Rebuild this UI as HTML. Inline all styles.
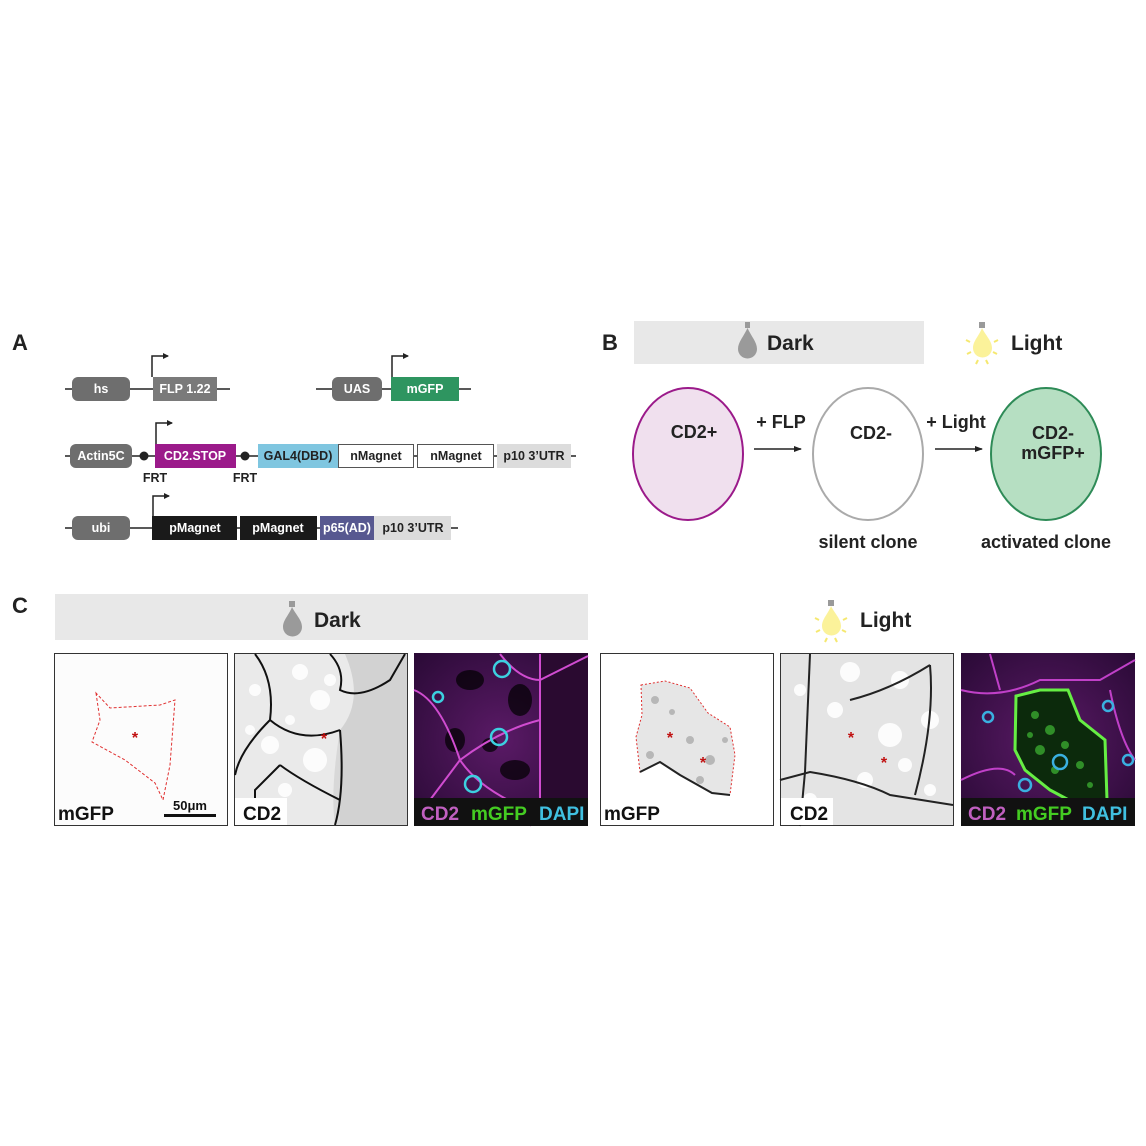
<!DOCTYPE html>
<html><head><meta charset="utf-8"><style>
html,body{margin:0;padding:0;background:#fff;}
svg{display:block;}
text{font-family:"Liberation Sans",Arial,sans-serif;font-weight:bold;}
</style></head><body>
<svg width="1146" height="1146" viewBox="0 0 1146 1146" xmlns="http://www.w3.org/2000/svg">
<defs>
<marker id="ah" markerWidth="8" markerHeight="8" refX="7" refY="4" orient="auto" markerUnits="userSpaceOnUse"><path d="M0,1 L8,4 L0,7 Z" fill="#222"/></marker>
<marker id="ps" markerWidth="6" markerHeight="6" refX="5" refY="3" orient="auto" markerUnits="userSpaceOnUse"><path d="M0,0 L6,3 L0,6 Z" fill="#222"/></marker>
<radialGradient id="gm" cx="50%" cy="50%" r="70%"><stop offset="0" stop-color="#5a1a66"/><stop offset="1" stop-color="#2a0a36"/></radialGradient>
</defs>

<!-- Panel A -->
<text x="12" y="350" font-size="22" fill="#222">A</text>
<g font-size="12.5" text-anchor="middle">
<!-- row 1 -->
<line x1="65" y1="389" x2="230" y2="389" stroke="#222" stroke-width="1.5"/>
<rect x="72" y="377" width="58" height="24" rx="6" fill="#6e6e6e"/><text x="101" y="393" fill="#fff">hs</text>
<rect x="153" y="377" width="64" height="24" fill="#7a7a7a"/><text x="185" y="393" fill="#fff">FLP 1.22</text>
<polyline points="152,377 152,356 168,356" fill="none" stroke="#222" stroke-width="1.5" marker-end="url(#ps)"/>
<line x1="316" y1="389" x2="471" y2="389" stroke="#222" stroke-width="1.5"/>
<rect x="332" y="377" width="50" height="24" rx="6" fill="#6e6e6e"/><text x="357" y="393" fill="#fff">UAS</text>
<rect x="391" y="377" width="68" height="24" fill="#2e9560"/><text x="425" y="393" fill="#fff">mGFP</text>
<polyline points="392,377 392,356 408,356" fill="none" stroke="#222" stroke-width="1.5" marker-end="url(#ps)"/>
<!-- row 2 -->
<line x1="65" y1="456" x2="576" y2="456" stroke="#222" stroke-width="1.5"/>
<rect x="70" y="444" width="62" height="24" rx="6" fill="#6e6e6e"/><text x="101" y="460" fill="#fff">Actin5C</text>
<circle cx="144" cy="456" r="4.5" fill="#222"/>
<rect x="155" y="444" width="81" height="24" fill="#9b1a8a"/><text x="195" y="460" fill="#fff">CD2.STOP</text>
<circle cx="245" cy="456" r="4.5" fill="#222"/>
<polyline points="156,444 156,423 172,423" fill="none" stroke="#222" stroke-width="1.5" marker-end="url(#ps)"/>
<rect x="258" y="444" width="80" height="24" fill="#7fc6e0"/><text x="298" y="460" fill="#222">GAL4(DBD)</text>
<rect x="338.5" y="444.5" width="75" height="23" fill="#fff" stroke="#555"/><text x="376" y="460" fill="#222">nMagnet</text>
<rect x="417.5" y="444.5" width="76" height="23" fill="#fff" stroke="#555"/><text x="456" y="460" fill="#222">nMagnet</text>
<rect x="497" y="444" width="74" height="24" fill="#dcdcdc"/><text x="534" y="460" fill="#222">p10 3’UTR</text>
<text x="155" y="482" fill="#222">FRT</text><text x="245" y="482" fill="#222">FRT</text>
<!-- row 3 -->
<line x1="65" y1="528" x2="458" y2="528" stroke="#222" stroke-width="1.5"/>
<rect x="72" y="516" width="58" height="24" rx="6" fill="#6e6e6e"/><text x="101" y="532" fill="#fff">ubi</text>
<rect x="152" y="516" width="85" height="24" fill="#1a1a1a"/><text x="195" y="532" fill="#fff">pMagnet</text>
<rect x="240" y="516" width="77" height="24" fill="#1a1a1a"/><text x="278" y="532" fill="#fff">pMagnet</text>
<rect x="320" y="516" width="54" height="24" fill="#575890"/><text x="347" y="532" fill="#fff">p65(AD)</text>
<rect x="374" y="516" width="77" height="24" fill="#dcdcdc"/><text x="413" y="532" fill="#222">p10 3’UTR</text>
<polyline points="153,516 153,496 169,496" fill="none" stroke="#222" stroke-width="1.5" marker-end="url(#ps)"/>
</g>

<!-- Panel B -->
<text x="602" y="350" font-size="22" fill="#222">B</text>
<rect x="634" y="321" width="290" height="43" fill="#e8e8e8"/>
<g fill="#9a9a9a"><rect x="745" y="322" width="5" height="6"/><path d="M747.5,328 C744,336 738,342 738,349 A9.5,9.5 0 0 0 757,349 C757,342 751,336 747.5,328Z"/></g>
<text x="767" y="350" font-size="21" fill="#222">Dark</text>
<g><rect x="979" y="322" width="6" height="6" fill="#9a9a9a"/><path d="M982,328 C979,336 973,341 973,348 A9.5,9.5 0 0 0 992,348 C992,341 986,336 982,328Z" fill="#fbf29a"/>
<g stroke="#f5e870" stroke-width="2"><line x1="966" y1="340" x2="970" y2="342"/><line x1="998" y1="340" x2="994" y2="342"/><line x1="967" y1="354" x2="971" y2="352"/><line x1="997" y1="354" x2="993" y2="352"/><line x1="978" y1="360" x2="976" y2="364"/><line x1="986" y1="360" x2="988" y2="364"/></g></g>
<text x="1011" y="350" font-size="21" fill="#222">Light</text>
<ellipse cx="688" cy="454" rx="55" ry="66" fill="#f0e0ee" stroke="#9b1a8a" stroke-width="2"/>
<ellipse cx="868" cy="454" rx="55" ry="66" fill="#fff" stroke="#aaa" stroke-width="2"/>
<ellipse cx="1046" cy="454" rx="55" ry="66" fill="#b6dfc2" stroke="#2e8b57" stroke-width="2"/>
<g font-size="18" fill="#222" text-anchor="middle">
<text x="694" y="438">CD2+</text><text x="871" y="439">CD2-</text>
<text x="1053" y="439">CD2-</text><text x="1053" y="459">mGFP+</text>
<text x="781" y="428">+ FLP</text><text x="956" y="428">+ Light</text>
<text x="868" y="548">silent clone</text><text x="1046" y="548">activated clone</text>
</g>
<line x1="754" y1="449" x2="801" y2="449" stroke="#222" stroke-width="1.5" marker-end="url(#ah)"/>
<line x1="935" y1="449" x2="982" y2="449" stroke="#222" stroke-width="1.5" marker-end="url(#ah)"/>

<!-- Panel C -->
<text x="12" y="613" font-size="22" fill="#222">C</text>
<rect x="55" y="594" width="533" height="46" fill="#e8e8e8"/>
<g fill="#9a9a9a"><rect x="289" y="601" width="6" height="6"/><path d="M292,607 C289,615 283,620 283,627 A9.5,9.5 0 0 0 302,627 C302,620 296,615 292,607Z"/></g>
<text x="314" y="627" font-size="21" fill="#222">Dark</text>
<g><rect x="828" y="600" width="6" height="6" fill="#9a9a9a"/><path d="M831,606 C828,614 822,619 822,626 A9.5,9.5 0 0 0 841,626 C841,619 835,614 831,606Z" fill="#fbf29a"/>
<g stroke="#f5e870" stroke-width="2"><line x1="815" y1="618" x2="819" y2="620"/><line x1="847" y1="618" x2="843" y2="620"/><line x1="816" y1="632" x2="820" y2="630"/><line x1="846" y1="632" x2="842" y2="630"/><line x1="827" y1="638" x2="825" y2="642"/><line x1="835" y1="638" x2="837" y2="642"/></g></g>
<text x="860" y="627" font-size="21" fill="#222">Light</text>

<!-- panel 1 -->
<rect x="54.5" y="653.5" width="173" height="172" fill="#fcfcfc" stroke="#333"/>
<path d="M96,693 L100,720 L92,742 L125,760 L155,783 L163,800 L170,765 L175,700 L160,705 L110,708 Z" fill="none" stroke="#e03030" stroke-dasharray="3,2"/>
<text x="135" y="743" font-size="16" fill="#c01010" text-anchor="middle">*</text>
<text x="58" y="820" font-size="19" fill="#111">mGFP</text>
<text x="190" y="810" font-size="13" fill="#111" text-anchor="middle">50μm</text>
<rect x="164" y="814" width="52" height="3" fill="#111"/>

<!-- panel 2 -->
<rect x="234.5" y="653.5" width="173" height="172" fill="#d8d8d8" stroke="#333"/>
<g>
<rect x="340" y="654" width="67" height="171" fill="#d2d2d2"/>
<path d="M235,654 L345,654 Q365,700 340,730 Q330,790 335,825 L235,825Z" fill="#eaeaea"/>
<g fill="#fff" opacity="0.9">
<circle cx="300" cy="672" r="8"/><circle cx="255" cy="690" r="6"/><circle cx="320" cy="700" r="10"/><circle cx="270" cy="745" r="9"/><circle cx="315" cy="760" r="12"/><circle cx="285" cy="790" r="7"/><circle cx="250" cy="730" r="5"/><circle cx="330" cy="680" r="6"/><circle cx="290" cy="720" r="5"/></g>
<g fill="none" stroke="#111" stroke-width="2">
<path d="M255,654 Q275,680 270,720 Q240,750 235,775"/>
<path d="M270,720 Q300,745 340,730"/>
<path d="M280,765 Q300,780 340,800"/>
<path d="M330,654 Q345,670 340,690 Q360,700 390,680 L405,654"/>
<path d="M340,730 Q345,790 335,825"/>
<path d="M255,825 L255,790 L280,765"/></g>
</g>
<text x="324" y="744" font-size="16" fill="#c01010" text-anchor="middle">*</text>
<rect x="235" y="798" width="52" height="27" fill="#fff"/>
<text x="243" y="820" font-size="19" fill="#111">CD2</text>

<!-- panel 3 -->
<rect x="414" y="653" width="174" height="173" fill="url(#gm)"/>
<rect x="540" y="653" width="48" height="173" fill="#2a0a30"/>
<g fill="#000" opacity="0.7"><ellipse cx="470" cy="680" rx="14" ry="10"/><ellipse cx="520" cy="700" rx="12" ry="16"/><ellipse cx="455" cy="740" rx="10" ry="12"/><ellipse cx="515" cy="770" rx="15" ry="10"/><ellipse cx="490" cy="745" rx="8" ry="7"/></g>
<g fill="none" stroke="#d04cd0" stroke-width="2">
<path d="M414,690 Q440,700 460,760 Q480,790 530,810"/><path d="M460,760 Q500,730 540,720"/><path d="M540,654 L540,800 Q535,815 530,826"/><path d="M430,800 L460,760"/><path d="M500,654 Q520,680 540,680 L588,656"/></g>
<g fill="none" stroke="#3cd0e0" stroke-width="2.5"><circle cx="502" cy="669" r="8"/><circle cx="499" cy="737" r="8"/><circle cx="473" cy="784" r="8"/><circle cx="438" cy="697" r="5"/></g>
<rect x="414" y="798" width="174" height="28" fill="#111"/>
<text x="421" y="820" font-size="19" fill="#c060c0">CD2</text><text x="471" y="820" font-size="19" fill="#44cc22">mGFP</text><text x="539" y="820" font-size="19" fill="#40c0e0">DAPI</text>

<!-- panel 4 -->
<rect x="600.5" y="653.5" width="173" height="172" fill="#fff" stroke="#333"/>
<path d="M641,685 L665,681 L690,688 L708,713 L730,727 L735,755 L730,795 L712,793 L680,775 L660,762 L640,772 L636,737 L642,715 Z" fill="#e6e6e6" stroke="#e03030" stroke-dasharray="2,2"/>
<g fill="#999" opacity="0.6"><circle cx="655" cy="700" r="4"/><circle cx="672" cy="712" r="3"/><circle cx="690" cy="740" r="4"/><circle cx="710" cy="760" r="5"/><circle cx="725" cy="740" r="3"/><circle cx="650" cy="755" r="4"/><circle cx="700" cy="780" r="4"/></g>
<path d="M640,772 L660,762 L680,775 L712,793 L730,795" fill="none" stroke="#222" stroke-width="2"/>
<text x="670" y="743" font-size="16" fill="#c01010" text-anchor="middle">*</text>
<text x="703" y="768" font-size="16" fill="#c01010" text-anchor="middle">*</text>
<text x="604" y="820" font-size="19" fill="#111">mGFP</text>

<!-- panel 5 -->
<rect x="780.5" y="653.5" width="173" height="172" fill="#e4e4e4" stroke="#333"/>
<g fill="#fff" opacity="0.9"><circle cx="850" cy="672" r="10"/><circle cx="900" cy="680" r="9"/><circle cx="835" cy="710" r="8"/><circle cx="890" cy="735" r="12"/><circle cx="930" cy="720" r="9"/><circle cx="800" cy="690" r="6"/><circle cx="865" cy="780" r="8"/><circle cx="930" cy="790" r="6"/><circle cx="810" cy="800" r="7"/><circle cx="905" cy="765" r="7"/></g>
<g fill="none" stroke="#222" stroke-width="2"><path d="M780,780 L810,772 Q860,780 890,795 L953,805"/><path d="M810,654 L805,772"/><path d="M850,700 Q890,690 930,665"/><path d="M930,665 Q935,720 915,795"/><path d="M805,772 L800,826"/></g>
<text x="851" y="743" font-size="16" fill="#c01010" text-anchor="middle">*</text>
<text x="884" y="768" font-size="16" fill="#c01010" text-anchor="middle">*</text>
<rect x="781" y="798" width="52" height="27" fill="#fff"/>
<text x="790" y="820" font-size="19" fill="#111">CD2</text>

<!-- panel 6 -->
<rect x="961" y="653" width="174" height="173" fill="url(#gm)"/>
<g fill="none" stroke="#c040c8" stroke-width="2"><path d="M961,690 Q1000,700 1040,680 L1100,680 L1135,660"/><path d="M961,780 Q1000,760 1015,775"/><path d="M1110,690 Q1120,740 1135,760"/><path d="M990,654 L1000,690"/></g>
<path d="M1016,696 L1040,690 L1068,690 L1080,720 L1105,740 L1107,800 L1080,806 L1050,790 L1025,770 L1015,750 Z" fill="#0c2a0c" stroke="#66ee44" stroke-width="3"/>
<g fill="#3aa830" opacity="0.8"><circle cx="1035" cy="715" r="4"/><circle cx="1050" cy="730" r="5"/><circle cx="1065" cy="745" r="4"/><circle cx="1040" cy="750" r="5"/><circle cx="1080" cy="765" r="4"/><circle cx="1055" cy="770" r="4"/><circle cx="1090" cy="785" r="3"/><circle cx="1030" cy="735" r="3"/></g>
<g fill="none" stroke="#3ab0e0" stroke-width="2.5"><circle cx="1060" cy="762" r="7"/><circle cx="1025" cy="785" r="6"/><circle cx="988" cy="717" r="5"/><circle cx="1108" cy="706" r="5"/><circle cx="1128" cy="760" r="5"/></g>
<rect x="961" y="798" width="174" height="28" fill="#111"/>
<text x="968" y="820" font-size="19" fill="#c060c0">CD2</text><text x="1016" y="820" font-size="19" fill="#44cc22">mGFP</text><text x="1082" y="820" font-size="19" fill="#40c0e0">DAPI</text>
</svg>
</body></html>
